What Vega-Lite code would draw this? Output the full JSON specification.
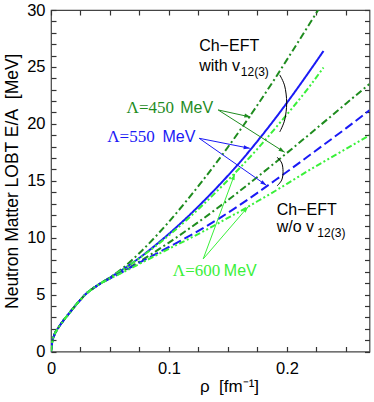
{
  "$schema": "https://vega.github.io/schema/vega-lite/v6.json",
  "width": 318.5,
  "height": 341.5,
  "autosize": {"type": "none"},
  "padding": {"left": 51, "top": 10, "right": 4.5, "bottom": 50.5},
  "background": "white",
  "config": {
    "view": {"stroke": "#444", "strokeWidth": 1.2},
    "font": "Liberation Sans"
  },
  "datasets": {
    "curves": [
      {"s": "450 with", "lam": "450", "rho": 0, "E": 0}, {"s": "450 with", "lam": "450", "rho": 0.001, "E": 0.8}, {"s": "450 with", "lam": "450", "rho": 0.003, "E": 1.5}, {"s": "450 with", "lam": "450", "rho": 0.006, "E": 2.05}, {"s": "450 with", "lam": "450", "rho": 0.01, "E": 2.65}, {"s": "450 with", "lam": "450", "rho": 0.015, "E": 3.3}, {"s": "450 with", "lam": "450", "rho": 0.02, "E": 3.95}, {"s": "450 with", "lam": "450", "rho": 0.025, "E": 4.55}, {"s": "450 with", "lam": "450", "rho": 0.03, "E": 5.1}, {"s": "450 with", "lam": "450", "rho": 0.035, "E": 5.5}, {"s": "450 with", "lam": "450", "rho": 0.04, "E": 5.85}, {"s": "450 with", "lam": "450", "rho": 0.05, "E": 6.5},
      {"s": "450 with", "lam": "450", "rho": 0.06, "E": 7.25}, {"s": "450 with", "lam": "450", "rho": 0.075, "E": 8.65}, {"s": "450 with", "lam": "450", "rho": 0.09, "E": 10.25}, {"s": "450 with", "lam": "450", "rho": 0.1, "E": 11.4}, {"s": "450 with", "lam": "450", "rho": 0.115, "E": 13.25}, {"s": "450 with", "lam": "450", "rho": 0.13, "E": 15.2}, {"s": "450 with", "lam": "450", "rho": 0.145, "E": 17.25}, {"s": "450 with", "lam": "450", "rho": 0.16, "E": 19.4}, {"s": "450 with", "lam": "450", "rho": 0.175, "E": 21.65}, {"s": "450 with", "lam": "450", "rho": 0.19, "E": 24.0}, {"s": "450 with", "lam": "450", "rho": 0.205, "E": 26.45}, {"s": "450 with", "lam": "450", "rho": 0.2265, "E": 30},

      {"s": "550 with", "lam": "550", "rho": 0, "E": 0}, {"s": "550 with", "lam": "550", "rho": 0.001, "E": 0.8}, {"s": "550 with", "lam": "550", "rho": 0.003, "E": 1.5}, {"s": "550 with", "lam": "550", "rho": 0.006, "E": 2.05}, {"s": "550 with", "lam": "550", "rho": 0.01, "E": 2.65}, {"s": "550 with", "lam": "550", "rho": 0.015, "E": 3.3}, {"s": "550 with", "lam": "550", "rho": 0.02, "E": 3.95}, {"s": "550 with", "lam": "550", "rho": 0.025, "E": 4.55}, {"s": "550 with", "lam": "550", "rho": 0.03, "E": 5.1}, {"s": "550 with", "lam": "550", "rho": 0.035, "E": 5.5}, {"s": "550 with", "lam": "550", "rho": 0.04, "E": 5.85}, {"s": "550 with", "lam": "550", "rho": 0.05, "E": 6.5},
      {"s": "550 with", "lam": "550", "rho": 0.06, "E": 7.15}, {"s": "550 with", "lam": "550", "rho": 0.075, "E": 8.23}, {"s": "550 with", "lam": "550", "rho": 0.09, "E": 9.46}, {"s": "550 with", "lam": "550", "rho": 0.1, "E": 10.34}, {"s": "550 with", "lam": "550", "rho": 0.115, "E": 11.75}, {"s": "550 with", "lam": "550", "rho": 0.13, "E": 13.27}, {"s": "550 with", "lam": "550", "rho": 0.145, "E": 14.89}, {"s": "550 with", "lam": "550", "rho": 0.16, "E": 16.61}, {"s": "550 with", "lam": "550", "rho": 0.175, "E": 18.48}, {"s": "550 with", "lam": "550", "rho": 0.19, "E": 20.46}, {"s": "550 with", "lam": "550", "rho": 0.205, "E": 22.56}, {"s": "550 with", "lam": "550", "rho": 0.22, "E": 24.75}, {"s": "550 with", "lam": "550", "rho": 0.231, "E": 26.4},

      {"s": "600 with", "lam": "600", "rho": 0, "E": 0}, {"s": "600 with", "lam": "600", "rho": 0.001, "E": 0.8}, {"s": "600 with", "lam": "600", "rho": 0.003, "E": 1.5}, {"s": "600 with", "lam": "600", "rho": 0.006, "E": 2.05}, {"s": "600 with", "lam": "600", "rho": 0.01, "E": 2.65}, {"s": "600 with", "lam": "600", "rho": 0.015, "E": 3.3}, {"s": "600 with", "lam": "600", "rho": 0.02, "E": 3.95}, {"s": "600 with", "lam": "600", "rho": 0.025, "E": 4.55}, {"s": "600 with", "lam": "600", "rho": 0.03, "E": 5.1}, {"s": "600 with", "lam": "600", "rho": 0.035, "E": 5.5}, {"s": "600 with", "lam": "600", "rho": 0.04, "E": 5.85}, {"s": "600 with", "lam": "600", "rho": 0.05, "E": 6.5},
      {"s": "600 with", "lam": "600", "rho": 0.06, "E": 7.15}, {"s": "600 with", "lam": "600", "rho": 0.075, "E": 8.2}, {"s": "600 with", "lam": "600", "rho": 0.09, "E": 9.37}, {"s": "600 with", "lam": "600", "rho": 0.1, "E": 10.21}, {"s": "600 with", "lam": "600", "rho": 0.115, "E": 11.56}, {"s": "600 with", "lam": "600", "rho": 0.13, "E": 13.0}, {"s": "600 with", "lam": "600", "rho": 0.145, "E": 14.53}, {"s": "600 with", "lam": "600", "rho": 0.16, "E": 16.12}, {"s": "600 with", "lam": "600", "rho": 0.175, "E": 17.8}, {"s": "600 with", "lam": "600", "rho": 0.19, "E": 19.6}, {"s": "600 with", "lam": "600", "rho": 0.205, "E": 21.45}, {"s": "600 with", "lam": "600", "rho": 0.22, "E": 23.4}, {"s": "600 with", "lam": "600", "rho": 0.231, "E": 24.95},

      {"s": "450 w/o", "lam": "450", "rho": 0, "E": 0}, {"s": "450 w/o", "lam": "450", "rho": 0.001, "E": 0.8}, {"s": "450 w/o", "lam": "450", "rho": 0.003, "E": 1.5}, {"s": "450 w/o", "lam": "450", "rho": 0.006, "E": 2.05}, {"s": "450 w/o", "lam": "450", "rho": 0.01, "E": 2.65}, {"s": "450 w/o", "lam": "450", "rho": 0.015, "E": 3.3}, {"s": "450 w/o", "lam": "450", "rho": 0.02, "E": 3.95}, {"s": "450 w/o", "lam": "450", "rho": 0.025, "E": 4.55}, {"s": "450 w/o", "lam": "450", "rho": 0.03, "E": 5.1}, {"s": "450 w/o", "lam": "450", "rho": 0.035, "E": 5.5}, {"s": "450 w/o", "lam": "450", "rho": 0.04, "E": 5.85}, {"s": "450 w/o", "lam": "450", "rho": 0.05, "E": 6.45},
      {"s": "450 w/o", "lam": "450", "rho": 0.06, "E": 7.0}, {"s": "450 w/o", "lam": "450", "rho": 0.075, "E": 7.9}, {"s": "450 w/o", "lam": "450", "rho": 0.09, "E": 8.88}, {"s": "450 w/o", "lam": "450", "rho": 0.1, "E": 9.57}, {"s": "450 w/o", "lam": "450", "rho": 0.115, "E": 10.64}, {"s": "450 w/o", "lam": "450", "rho": 0.13, "E": 11.75}, {"s": "450 w/o", "lam": "450", "rho": 0.145, "E": 12.9}, {"s": "450 w/o", "lam": "450", "rho": 0.16, "E": 14.1}, {"s": "450 w/o", "lam": "450", "rho": 0.175, "E": 15.33}, {"s": "450 w/o", "lam": "450", "rho": 0.19, "E": 16.59}, {"s": "450 w/o", "lam": "450", "rho": 0.205, "E": 17.87}, {"s": "450 w/o", "lam": "450", "rho": 0.22, "E": 19.16}, {"s": "450 w/o", "lam": "450", "rho": 0.235, "E": 20.46}, {"s": "450 w/o", "lam": "450", "rho": 0.25, "E": 21.77}, {"s": "450 w/o", "lam": "450", "rho": 0.27, "E": 23.5},

      {"s": "550 w/o", "lam": "550", "rho": 0, "E": 0}, {"s": "550 w/o", "lam": "550", "rho": 0.001, "E": 0.8}, {"s": "550 w/o", "lam": "550", "rho": 0.003, "E": 1.5}, {"s": "550 w/o", "lam": "550", "rho": 0.006, "E": 2.05}, {"s": "550 w/o", "lam": "550", "rho": 0.01, "E": 2.65}, {"s": "550 w/o", "lam": "550", "rho": 0.015, "E": 3.3}, {"s": "550 w/o", "lam": "550", "rho": 0.02, "E": 3.95}, {"s": "550 w/o", "lam": "550", "rho": 0.025, "E": 4.55}, {"s": "550 w/o", "lam": "550", "rho": 0.03, "E": 5.1}, {"s": "550 w/o", "lam": "550", "rho": 0.035, "E": 5.5}, {"s": "550 w/o", "lam": "550", "rho": 0.04, "E": 5.85}, {"s": "550 w/o", "lam": "550", "rho": 0.05, "E": 6.4},
      {"s": "550 w/o", "lam": "550", "rho": 0.06, "E": 6.95}, {"s": "550 w/o", "lam": "550", "rho": 0.075, "E": 7.8}, {"s": "550 w/o", "lam": "550", "rho": 0.09, "E": 8.63}, {"s": "550 w/o", "lam": "550", "rho": 0.1, "E": 9.18}, {"s": "550 w/o", "lam": "550", "rho": 0.115, "E": 10.02}, {"s": "550 w/o", "lam": "550", "rho": 0.13, "E": 10.9}, {"s": "550 w/o", "lam": "550", "rho": 0.145, "E": 11.85}, {"s": "550 w/o", "lam": "550", "rho": 0.16, "E": 12.87}, {"s": "550 w/o", "lam": "550", "rho": 0.175, "E": 13.94}, {"s": "550 w/o", "lam": "550", "rho": 0.19, "E": 15.04}, {"s": "550 w/o", "lam": "550", "rho": 0.205, "E": 16.16}, {"s": "550 w/o", "lam": "550", "rho": 0.22, "E": 17.3}, {"s": "550 w/o", "lam": "550", "rho": 0.235, "E": 18.45}, {"s": "550 w/o", "lam": "550", "rho": 0.25, "E": 19.6}, {"s": "550 w/o", "lam": "550", "rho": 0.27, "E": 21.2},

      {"s": "600 w/o", "lam": "600", "rho": 0, "E": 0}, {"s": "600 w/o", "lam": "600", "rho": 0.001, "E": 0.8}, {"s": "600 w/o", "lam": "600", "rho": 0.003, "E": 1.5}, {"s": "600 w/o", "lam": "600", "rho": 0.006, "E": 2.05}, {"s": "600 w/o", "lam": "600", "rho": 0.01, "E": 2.65}, {"s": "600 w/o", "lam": "600", "rho": 0.015, "E": 3.3}, {"s": "600 w/o", "lam": "600", "rho": 0.02, "E": 3.95}, {"s": "600 w/o", "lam": "600", "rho": 0.025, "E": 4.55}, {"s": "600 w/o", "lam": "600", "rho": 0.03, "E": 5.1}, {"s": "600 w/o", "lam": "600", "rho": 0.035, "E": 5.5}, {"s": "600 w/o", "lam": "600", "rho": 0.04, "E": 5.85}, {"s": "600 w/o", "lam": "600", "rho": 0.05, "E": 6.4},
      {"s": "600 w/o", "lam": "600", "rho": 0.06, "E": 6.9}, {"s": "600 w/o", "lam": "600", "rho": 0.075, "E": 7.7}, {"s": "600 w/o", "lam": "600", "rho": 0.09, "E": 8.5}, {"s": "600 w/o", "lam": "600", "rho": 0.1, "E": 9.03}, {"s": "600 w/o", "lam": "600", "rho": 0.115, "E": 9.8}, {"s": "600 w/o", "lam": "600", "rho": 0.13, "E": 10.6}, {"s": "600 w/o", "lam": "600", "rho": 0.145, "E": 11.45}, {"s": "600 w/o", "lam": "600", "rho": 0.16, "E": 12.3}, {"s": "600 w/o", "lam": "600", "rho": 0.175, "E": 13.2}, {"s": "600 w/o", "lam": "600", "rho": 0.19, "E": 14.1}, {"s": "600 w/o", "lam": "600", "rho": 0.205, "E": 15.05}, {"s": "600 w/o", "lam": "600", "rho": 0.22, "E": 16.0}, {"s": "600 w/o", "lam": "600", "rho": 0.235, "E": 16.9}, {"s": "600 w/o", "lam": "600", "rho": 0.25, "E": 17.8}, {"s": "600 w/o", "lam": "600", "rho": 0.27, "E": 19.0}
    ],
    "arrows": [
      {"lam": "450", "rho": 0.1417, "E": 21.22, "rho2": 0.1691, "E2": 20.6, "ang": 104},
      {"lam": "450", "rho": 0.1417, "E": 21.22, "rho2": 0.1981, "E2": 17.5, "ang": 122},
      {"lam": "550", "rho": 0.1256, "E": 18.73, "rho2": 0.1685, "E2": 17.85, "ang": 100},
      {"lam": "550", "rho": 0.1256, "E": 18.73, "rho2": 0.1826, "E2": 14.6, "ang": 124},
      {"lam": "600", "rho": 0.129, "E": 8.13, "rho2": 0.1558, "E2": 15.6, "ang": 20},
      {"lam": "600", "rho": 0.129, "E": 8.13, "rho2": 0.1671, "E2": 12.72, "ang": 41}
    ],
    "braces": [
      {"b": "with", "o": 1, "rho": 0.1939, "E": 24.3},
      {"b": "with", "o": 2, "rho": 0.1981, "E": 23.33},
      {"b": "with", "o": 3, "rho": 0.1998, "E": 21.84},
      {"b": "with", "o": 4, "rho": 0.1981, "E": 20.34},
      {"b": "with", "o": 5, "rho": 0.1939, "E": 19.29},
      {"b": "wo", "o": 1, "rho": 0.1916, "E": 17.07},
      {"b": "wo", "o": 2, "rho": 0.1956, "E": 16.56},
      {"b": "wo", "o": 3, "rho": 0.1967, "E": 15.8},
      {"b": "wo", "o": 4, "rho": 0.1956, "E": 15.07},
      {"b": "wo", "o": 5, "rho": 0.1916, "E": 14.54}
    ],
    "labelsBlack": [
      {"t": "Ch−EFT", "rho": 0.1256, "E": 26.8},
      {"t": "with v", "rho": 0.1256, "E": 25.05},
      {"t": "Ch−EFT", "rho": 0.1914, "E": 12.4},
      {"t": "w/o v", "rho": 0.1914, "E": 10.98}
    ],
    "subs": [
      {"t": "12(3)", "rho": 0.1609, "E": 24.58},
      {"t": "12(3)", "rho": 0.2258, "E": 10.43}
    ],
    "lambdas": [
      {"lam": "450", "t": "Λ=450", "rho": 0.0641, "E": 21.35},
      {"lam": "550", "t": "Λ=550", "rho": 0.0477, "E": 18.83},
      {"lam": "600", "t": "Λ=600", "rho": 0.1033, "E": 7.03}
    ],
    "mevs": [
      {"lam": "450", "t": "MeV", "rho": 0.1095, "E": 21.35},
      {"lam": "550", "t": "MeV", "rho": 0.0945, "E": 18.83},
      {"lam": "600", "t": "MeV", "rho": 0.1465, "E": 7.03}
    ]
  },
  "layer": [
    {
      "encoding": {
        "x": {
          "field": "rho", "type": "quantitative",
          "scale": {"domain": [0, 0.27], "nice": false, "zero": false},
          "axis": {
            "orient": "bottom",
            "values": [0, 0.025, 0.05, 0.075, 0.1, 0.125, 0.15, 0.175, 0.2, 0.225, 0.25],
            "labelExpr": "abs(datum.value * 10 - round(datum.value * 10)) < 0.001 ? format(datum.value, '~g') : ''",
            "ticks": true, "tickSize": -5, "tickColor": "#333", "tickWidth": 1.2,
            "grid": false, "domain": false,
            "labelPadding": 14, "labelFontSize": 16.5, "labelColor": "#000", "labelFont": "Liberation Sans", "labelFontWeight": "normal",
            "labelFlush": false, "labelOverlap": false, "labelBound": false,
            "title": "ρ\u00a0 [fm⁻¹]",
            "titleX": 178, "titleY": 35, "titleAlign": "center", "titleBaseline": "middle",
            "titleFontSize": 17, "titleFontWeight": "normal", "titleColor": "#000", "titleFont": "Liberation Sans"
          }
        },
        "y": {
          "field": "E", "type": "quantitative",
          "scale": {"domain": [0, 30], "nice": false, "zero": false},
          "axis": {
            "orient": "left",
            "values": [0,1,2,3,4,5,6,7,8,9,10,11,12,13,14,15,16,17,18,19,20,21,22,23,24,25,26,27,28,29,30],
            "labelExpr": "datum.value % 5 == 0 ? datum.label : ''",
            "ticks": true, "tickSize": -5, "tickColor": "#333", "tickWidth": 1.2,
            "grid": false, "domain": false,
            "labelPadding": 11, "labelFontSize": 16.5, "labelColor": "#000", "labelFont": "Liberation Sans", "labelFontWeight": "normal",
            "labelFlush": false, "labelOverlap": false, "labelBound": false,
            "title": "Neutron Matter LOBT E/A\u00a0 [MeV]",
            "titleX": -39, "titleY": 170.75, "titleAlign": "center", "titleBaseline": "middle", "titleAngle": -90,
            "titleFontSize": 17.5, "titleFontWeight": "normal", "titleColor": "#000", "titleFont": "Liberation Sans"
          }
        }
      },
      "layer": [
        {
          "data": {"name": "curves"},
          "mark": {"type": "line", "strokeWidth": 2, "interpolate": "monotone", "clip": true},
          "encoding": {
            "color": {"field": "lam", "type": "nominal", "legend": null,
              "scale": {"domain": ["450", "550", "600"], "range": ["#1f8c1f", "#1a1af5", "#3af03a"]}},
            "strokeDash": {"field": "s", "type": "nominal", "legend": null,
              "scale": {"domain": ["450 with", "550 with", "600 with", "450 w/o", "550 w/o", "600 w/o"],
                "range": [[7, 3, 2, 3], [1, 0], [6, 2.5, 2, 2.5, 2, 2.5], [7, 3, 2, 3], [9, 4], [6, 2.5, 2, 2.5, 2, 2.5]]}},
            "detail": {"field": "s", "type": "nominal"}
          }
        },
        {
          "data": {"name": "arrows"},
          "mark": {"type": "rule", "strokeWidth": 1},
          "encoding": {
            "x2": {"field": "rho2"},
            "y2": {"field": "E2"},
            "color": {"field": "lam", "type": "nominal", "legend": null}
          }
        },
        {
          "data": {"name": "arrows"},
          "mark": {"type": "point", "shape": "M0,0L0.33,1L-0.33,1Z", "filled": true, "opacity": 1, "size": 150, "strokeWidth": 0},
          "encoding": {
            "x": {"field": "rho2", "type": "quantitative"},
            "y": {"field": "E2", "type": "quantitative"},
            "angle": {"field": "ang", "type": "quantitative", "scale": null},
            "color": {"field": "lam", "type": "nominal", "legend": null}
          }
        },
        {
          "data": {"name": "braces"},
          "mark": {"type": "line", "color": "#000", "strokeWidth": 1, "interpolate": "cardinal"},
          "encoding": {
            "order": {"field": "o", "type": "quantitative"},
            "detail": {"field": "b", "type": "nominal"}
          }
        },
        {
          "data": {"name": "labelsBlack"},
          "mark": {"type": "text", "align": "left", "baseline": "middle", "fontSize": 16, "font": "Liberation Sans", "color": "#000"},
          "encoding": {"text": {"field": "t"}}
        },
        {
          "data": {"name": "subs"},
          "mark": {"type": "text", "align": "left", "baseline": "middle", "fontSize": 12, "font": "Liberation Sans", "color": "#000"},
          "encoding": {"text": {"field": "t"}}
        },
        {
          "data": {"name": "lambdas"},
          "mark": {"type": "text", "align": "left", "baseline": "middle", "fontSize": 17, "font": "Liberation Serif"},
          "encoding": {
            "text": {"field": "t"},
            "color": {"field": "lam", "type": "nominal", "legend": null}
          }
        },
        {
          "data": {"name": "mevs"},
          "mark": {"type": "text", "align": "left", "baseline": "middle", "fontSize": 16, "font": "Liberation Sans"},
          "encoding": {
            "text": {"field": "t"},
            "color": {"field": "lam", "type": "nominal", "legend": null}
          }
        }
      ]
    },
    {
      "data": {"name": "mevs"},
      "mark": {"type": "point", "opacity": 0},
      "encoding": {
        "x": {"field": "rho", "type": "quantitative",
          "scale": {"domain": [0, 0.27], "nice": false, "zero": false},
          "axis": {"orient": "top", "values": [0, 0.025, 0.05, 0.075, 0.1, 0.125, 0.15, 0.175, 0.2, 0.225, 0.25],
            "ticks": true, "tickSize": -5, "tickColor": "#333", "tickWidth": 1.2, "labels": false, "title": null, "grid": false, "domain": false}},
        "y": {"field": "E", "type": "quantitative",
          "scale": {"domain": [0, 30], "nice": false, "zero": false},
          "axis": {"orient": "right", "values": [0,1,2,3,4,5,6,7,8,9,10,11,12,13,14,15,16,17,18,19,20,21,22,23,24,25,26,27,28,29,30],
            "ticks": true, "tickSize": -5, "tickColor": "#333", "tickWidth": 1.2, "labels": false, "title": null, "grid": false, "domain": false}}
      }
    }
  ],
  "resolve": {"axis": {"x": "independent", "y": "independent"}}
}
